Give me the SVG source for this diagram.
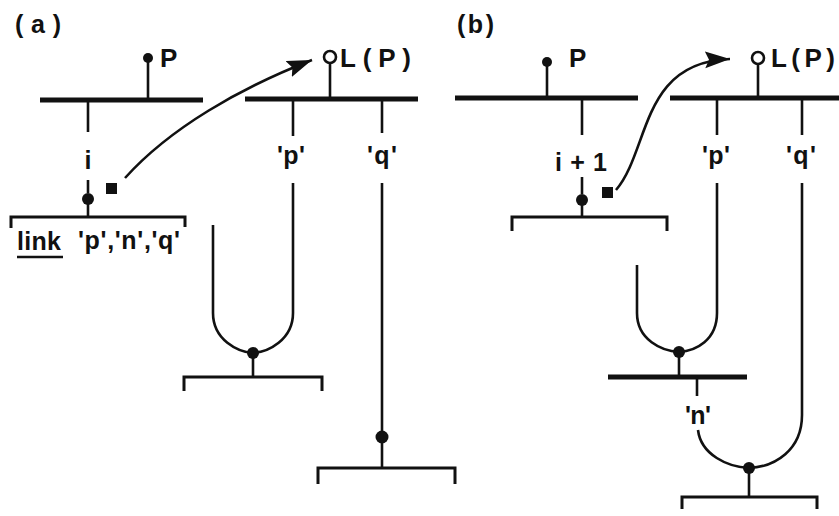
<svg xmlns="http://www.w3.org/2000/svg" width="839" height="516" viewBox="0 0 839 516">
<defs>
<style>
.bar{stroke:#111;stroke-width:5;fill:none}
.ln{stroke:#111;stroke-width:2.6;fill:none}
.br{stroke:#111;stroke-width:3;fill:none}
.dot{fill:#111}
.open{fill:#fff;stroke:#111;stroke-width:2.6}
.sq{fill:#111}
text{font-family:"Liberation Sans",Arial,sans-serif;font-weight:bold;fill:#111}
.t{font-size:25px}
.tb{font-size:26px}
.mid{text-anchor:middle}
</style>
<marker id="ah" markerUnits="userSpaceOnUse" markerWidth="28" markerHeight="20" refX="25" refY="8.5" orient="auto">
<path d="M0,0 L25,8.5 L0,17 L4,8.5 z" fill="#111"/>
</marker>
</defs>
<rect width="839" height="516" fill="#fff"/>

<!-- Panel (a) -->
<g id="label-a"><text class="t" x="15" y="33" textLength="46" lengthAdjust="spacing">(a)</text></g>
<g id="a-bar-left"><line class="bar" x1="40" y1="100" x2="203" y2="100"/></g>
<g id="a-P"><line class="ln" x1="148" y1="62" x2="148" y2="100"/><circle class="dot" cx="148" cy="58" r="5"/><text class="tb" x="160" y="67">P</text></g>
<g id="a-bar-right"><line class="bar" x1="245" y1="99" x2="418" y2="99"/></g>
<g id="a-LP"><circle class="open" cx="330" cy="57" r="6"/><line class="ln" x1="330" y1="63" x2="330" y2="99"/><text class="tb" x="340" y="67" textLength="71" lengthAdjust="spacing">L(P)</text></g>
<g id="a-i"><line class="ln" x1="88" y1="100" x2="88" y2="132"/><text class="t mid" x="88" y="169">i</text></g>
<g id="a-link-node"><circle class="dot" cx="88" cy="199" r="6"/><line class="ln" x1="88" y1="199" x2="88" y2="217"/><path class="br" d="M11,228 V217 H185 V227"/><rect class="sq" x="106" y="183" width="11" height="11"/></g>
<g id="a-link-text"><text class="t" x="17" y="250" textLength="44" lengthAdjust="spacing">link</text><line class="ln" x1="17" y1="257" x2="63" y2="257"/><text class="t" x="78" y="249" textLength="102" lengthAdjust="spacing">'p','n','q'</text></g>
<g id="a-p"><line class="ln" x1="293" y1="99" x2="293" y2="136"/><text class="t mid" x="291" y="164" textLength="28" lengthAdjust="spacing">'p'</text></g>
<g id="a-q"><line class="ln" x1="382" y1="99" x2="382" y2="133"/><text class="t mid" x="382" y="164" textLength="30" lengthAdjust="spacing">'q'</text></g>
<g id="a-node-p"><circle class="dot" cx="253" cy="353" r="6"/><line class="ln" x1="253" y1="353" x2="253" y2="377"/><path class="br" d="M184,391 V377 H322 V391"/></g>
<g id="a-node-q"><circle class="dot" cx="382" cy="437" r="6.5"/><line class="ln" x1="382" y1="437" x2="382" y2="468"/><path class="br" d="M318,484 V468 H455 V484"/></g>

<!-- Panel (b) -->
<g id="label-b"><text class="t" x="457" y="33" textLength="37" lengthAdjust="spacing">(b)</text></g>
<g id="b-bar-left"><line class="bar" x1="455" y1="98" x2="638" y2="98"/></g>
<g id="b-P"><line class="ln" x1="547" y1="66" x2="547" y2="98"/><circle class="dot" cx="547" cy="62" r="5"/><text class="tb" x="569" y="67">P</text></g>
<g id="b-bar-right"><line class="bar" x1="670" y1="98" x2="839" y2="98"/></g>
<g id="b-LP"><circle class="open" cx="758" cy="58" r="6"/><line class="ln" x1="758" y1="64" x2="758" y2="98"/><text class="tb" x="771" y="67" textLength="64" lengthAdjust="spacing">L(P)</text></g>
<g id="b-i1"><line class="ln" x1="582" y1="98" x2="582" y2="135"/><text class="t mid" x="581" y="171" textLength="52" lengthAdjust="spacing">i + 1</text></g>
<g id="b-node-i1"><circle class="dot" cx="582" cy="200" r="6"/><line class="ln" x1="582" y1="200" x2="582" y2="217"/><path class="br" d="M512,231 V217 H667 V231"/><rect class="sq" x="602" y="187" width="11" height="11"/></g>
<g id="b-p"><line class="ln" x1="717" y1="98" x2="717" y2="135"/><text class="t mid" x="716" y="164" textLength="28" lengthAdjust="spacing">'p'</text></g>
<g id="b-q"><line class="ln" x1="802" y1="98" x2="802" y2="135"/><text class="t mid" x="801" y="164" textLength="30" lengthAdjust="spacing">'q'</text></g>
<g id="b-node-p"><circle class="dot" cx="679" cy="352" r="6"/><line class="ln" x1="679" y1="352" x2="679" y2="377"/><line class="bar" x1="608" y1="377" x2="747" y2="377"/></g>
<g id="b-n"><line class="ln" x1="697" y1="377" x2="697" y2="396"/><text class="t mid" x="698" y="424" textLength="26" lengthAdjust="spacing">'n'</text></g>
<g id="b-node-q"><circle class="dot" cx="749" cy="468" r="6"/><line class="ln" x1="749" y1="468" x2="749" y2="497"/><path class="br" d="M682,509 V497 H817 V509"/></g>

<!-- Connectors -->
<g id="connectors">
<path class="ln" d="M88,180 V193"/>
<path class="ln" d="M125,178 C170,128 240,88 312,60" marker-end="url(#ah)"/>
<path class="ln" d="M213,225 V313 C213,340 238,352 253,353 C268,352 293,340 293,313 V183"/>
<path class="ln" d="M382,183 V437"/>
<path class="ln" d="M582,177 V194"/>
<path class="ln" d="M616,190 C650,150 640,62 730,59" marker-end="url(#ah)"/>
<path class="ln" d="M637,265 V313 C637,340 662,351 679,352 C696,351 717,340 717,313 V183"/>
<path class="ln" d="M698,430 C701,455 728,467 749,468 C775,467 802,450 802,415 V183"/>
</g>
</svg>
